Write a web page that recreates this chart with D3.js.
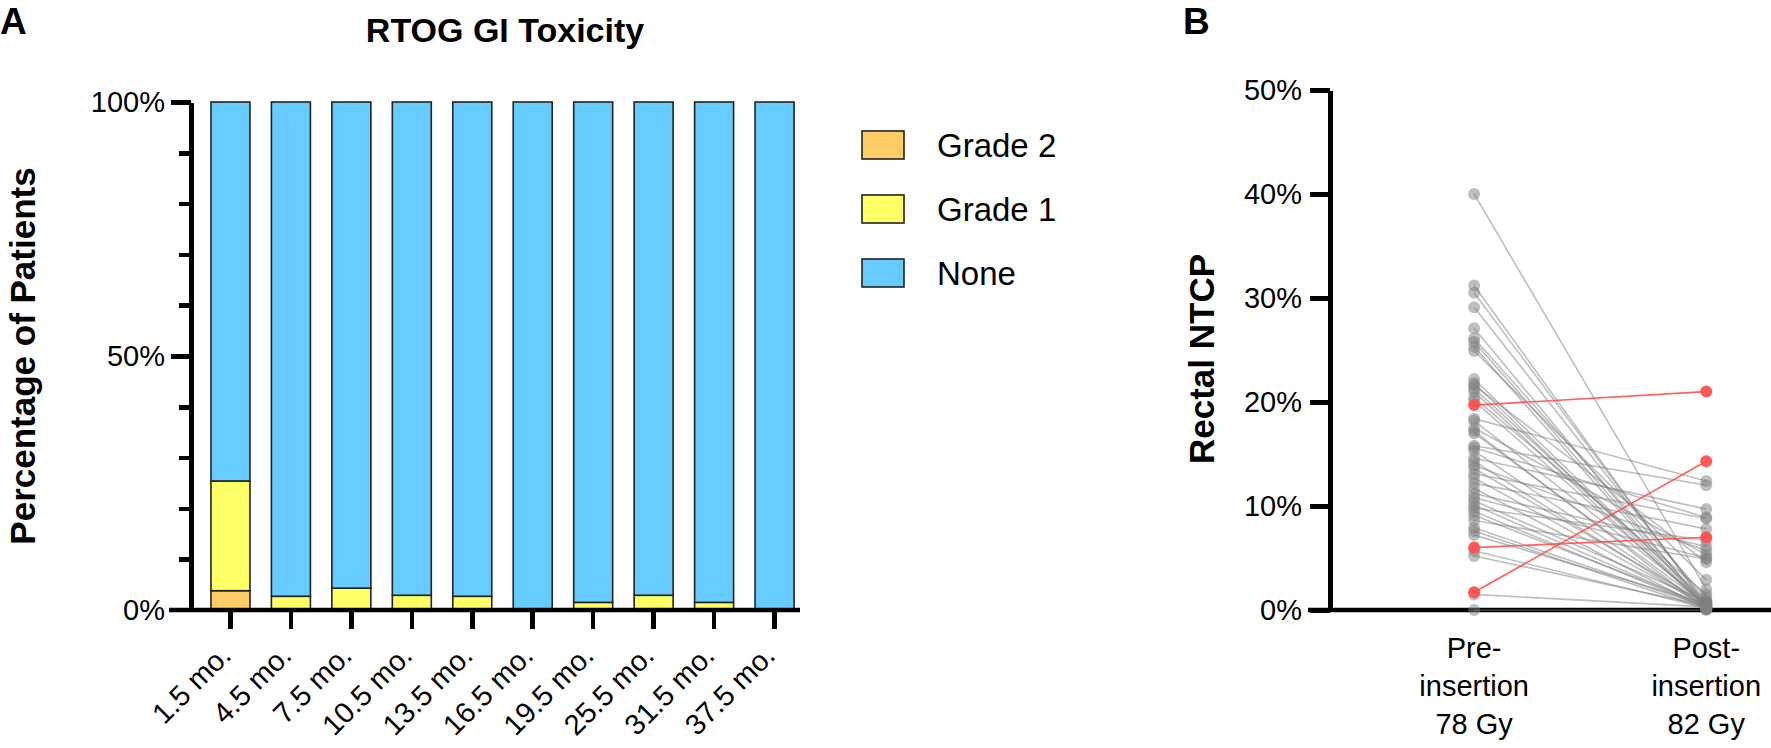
<!DOCTYPE html>
<html lang="en">

<head>
  <meta charset="utf-8">
  <title>RTOG GI Toxicity / Rectal NTCP</title>
  <script src="https://cdn.jsdelivr.net/npm/d3@7"></script>
  <style>
    body {
      margin: 0;
      background: #fff;
    }

    svg text {
      font-family: "Liberation Sans", Arial, sans-serif;
      fill: #000;
    }

    .axis path,
    .axis line {
      stroke: #000;
      stroke-width: 4.5;
      shape-rendering: crispEdges;
    }
  </style>
</head>

<body>
  <div id="chart"></div>
  <script>
    // panel A data (percent of patients)
    const timepoints = ['1.5 mo.', '4.5 mo.', '7.5 mo.', '10.5 mo.', '13.5 mo.', '16.5 mo.', '19.5 mo.', '25.5 mo.', '31.5 mo.', '37.5 mo.']
    const grade2 = [3.8, 0, 0, 0, 0, 0, 0, 0, 0, 0]
    const grade1 = [21.6, 2.7, 4.3, 2.9, 2.7, 0, 1.5, 2.9, 1.5, 0]
    const none = timepoints.map((t, i) => 100 - grade1[i] - grade2[i])
    const yTicksA = [0, 50, 100]

    // panel B data (rectal NTCP, %)
    const groupsB = ['Pre-insertion 78 Gy', 'Post-insertion 82 Gy']
    const preGray = [40.0, 31.2, 30.5, 29.1, 27.1, 26.1, 25.8, 25.3, 24.9, 22.2, 21.8, 21.6, 21.3, 21.0, 20.4, 20.1,
      18.4, 18.2, 17.5, 17.2, 17.0, 15.8, 15.6, 15.3, 14.6, 14.3, 13.9, 13.6, 13.1, 12.7, 12.2, 11.7, 11.2, 10.8,
      10.5, 10.1, 9.8, 9.5, 9.1, 8.6, 7.9, 7.6, 7.2, 5.7, 5.2, 1.5, 0.0]
    const postGray = [2.0, 0.3, 0.5, 0.8, 0.2, 1.2, 0.4, 0.1, 2.9, 0.6, 0.3, 4.6, 0.9, 0.2, 1.5, 0.4,
      12.4, 0.7, 5.3, 0.1, 0.5, 12.0, 8.9, 0.3, 9.7, 0.2, 5.7, 0.6, 8.8, 0.4, 7.8, 0.1, 6.1, 5.0,
      0.8, 0.3, 6.7, 0.2, 0.5, 4.9, 0.3, 0.1, 0.6, 0.2, 0.4, 0.3, 0.0]
    const preRed = [19.7, 6.0, 1.7]
    const postRed = [21.0, 7.0, 14.3]
    const yTicksB = [0, 10, 20, 30, 40, 50]

    const width = 1771
    const height = 748
    const colors = { grade2: '#FFCC66', grade1: '#FFFF66', none: '#66CCFF' }

    const svg = d3.select('#chart')
      .append('svg')
      .attr('width', width)
      .attr('height', height)

    // ---------- panel A ----------
    const axisXA = 191
    const yA = d3.scaleLinear().domain([0, 100]).range([610, 102])
    const xA = d3.scaleBand().domain(timepoints).range([axisXA, 814])
      .paddingInner(0.355).paddingOuter(0.33)

    const stackRows = timepoints.map((t, i) => ({ t: t, grade2: grade2[i], grade1: grade1[i], none: none[i] }))
    const stacked = d3.stack().keys(['grade2', 'grade1', 'none'])(stackRows)

    const gA = svg.append('g')

    gA.selectAll('g.layer')
      .data(stacked)
      .enter()
      .append('g')
      .attr('class', 'layer')
      .attr('fill', d => colors[d.key])
      .selectAll('rect')
      .data(d => d)
      .enter()
      .append('rect')
      .attr('x', d => xA(d.data.t))
      .attr('y', d => yA(d[1]))
      .attr('width', xA.bandwidth())
      .attr('height', d => yA(d[0]) - yA(d[1]))
      .attr('stroke', '#222')
      .attr('stroke-width', d => (d[1] - d[0]) > 0 ? 1.6 : 0)

    // minor ticks every 10%
    gA.append('g')
      .attr('class', 'axis')
      .attr('transform', `translate(${axisXA},0)`)
      .call(d3.axisLeft(yA).tickValues(d3.range(10, 100, 10).filter(v => v !== 50)).tickSize(12).tickFormat(''))
      .call(g => g.select('.domain').remove())

    const yAxisA = gA.append('g')
      .attr('class', 'axis')
      .attr('transform', `translate(${axisXA},0)`)
      .call(d3.axisLeft(yA).tickValues(yTicksA).tickSize(20).tickSizeOuter(0).tickPadding(6).tickFormat(d => d + '%'))
    yAxisA.selectAll('text').style('font-size', '29px')
    yAxisA.select('.tick line').remove()

    const xAxisA = gA.append('g')
      .attr('class', 'axis')
      .attr('transform', `translate(0,${yA(0)})`)
      .call(d3.axisBottom(xA).tickSize(19).tickSizeOuter(0))
    xAxisA.select('.domain').remove()
    xAxisA.selectAll('text')
      .style('font-size', '29px')
      .attr('text-anchor', 'end')
      .attr('y', 0)
      .attr('dy', '0.35em')
      .attr('transform', 'translate(-5,40) rotate(-45)')

    gA.append('line')
      .attr('x1', axisXA - 22).attr('x2', 800)
      .attr('y1', yA(0)).attr('y2', yA(0))
      .attr('stroke', '#000').attr('stroke-width', 4.5)

    gA.append('text')
      .attr('x', 505).attr('y', 42)
      .attr('text-anchor', 'middle')
      .style('font-size', '34px').style('font-weight', 'bold')
      .text('RTOG GI Toxicity')

    gA.append('text')
      .attr('transform', `translate(35,${yA(50)}) rotate(-90)`)
      .attr('text-anchor', 'middle')
      .style('font-size', '35px').style('font-weight', 'bold')
      .text('Percentage of Patients')

    gA.append('text')
      .attr('x', 0).attr('y', 34)
      .style('font-size', '37px').style('font-weight', 'bold')
      .text('A')

    // legend
    const legendItems = [
      { key: 'grade2', label: 'Grade 2' },
      { key: 'grade1', label: 'Grade 1' },
      { key: 'none', label: 'None' }
    ]
    const legend = gA.selectAll('g.legend')
      .data(legendItems)
      .enter()
      .append('g')
      .attr('class', 'legend')
      .attr('transform', (d, i) => `translate(862,${131 + i * 64})`)
    legend.append('rect')
      .attr('width', 42).attr('height', 28)
      .attr('fill', d => colors[d.key])
      .attr('stroke', '#222').attr('stroke-width', 1.6)
    legend.append('text')
      .attr('x', 75).attr('y', 26)
      .style('font-size', '33px')
      .text(d => d.label)

    // ---------- panel B ----------
    const axisXB = 1330
    const yB = d3.scaleLinear().domain([0, 50]).range([610, 90])
    const xB = d3.scalePoint().domain(groupsB).range([axisXB, width]).padding(0.45).align(0.69)

    const gB = svg.append('g')

    const yAxisB = gB.append('g')
      .attr('class', 'axis')
      .attr('transform', `translate(${axisXB},0)`)
      .call(d3.axisLeft(yB).tickValues(yTicksB).tickSize(20).tickSizeOuter(0).tickPadding(8).tickFormat(d => d + '%'))
    yAxisB.selectAll('text').style('font-size', '29px')

    gB.append('line')
      .attr('x1', axisXB - 22).attr('x2', width)
      .attr('y1', yB(0)).attr('y2', yB(0))
      .attr('stroke', '#000').attr('stroke-width', 4.5)

    const pairsGray = preGray.map((v, i) => [v, postGray[i]])
    const pairsRed = preRed.map((v, i) => [v, postRed[i]])

    function drawPairs(pairs, color, lineOpacity, dotOpacity) {
      const g = gB.append('g')
      g.selectAll('line')
        .data(pairs)
        .enter()
        .append('line')
        .attr('x1', xB(groupsB[0]))
        .attr('x2', xB(groupsB[1]))
        .attr('y1', d => yB(d[0]))
        .attr('y2', d => yB(d[1]))
        .attr('stroke', color)
        .attr('stroke-opacity', lineOpacity)
        .attr('stroke-width', 1.6)
      groupsB.forEach((grp, k) => {
        g.selectAll('circle.c' + k)
          .data(pairs)
          .enter()
          .append('circle')
          .attr('class', 'c' + k)
          .attr('cx', xB(grp))
          .attr('cy', d => yB(d[k]))
          .attr('r', 6)
          .attr('fill', color)
          .attr('fill-opacity', dotOpacity)
      })
    }
    drawPairs(pairsGray, '#808080', 0.5, 0.5)
    drawPairs(pairsRed, '#FF5050', 0.9, 0.95)

    // category labels (three lines)
    const catLabels = gB.selectAll('text.cat')
      .data(['Pre-|insertion|78 Gy', 'Post-|insertion|82 Gy'])
      .enter()
      .append('text')
      .attr('class', 'cat')
      .attr('text-anchor', 'middle')
      .style('font-size', '29px')
    catLabels.selectAll('tspan')
      .data((d, i) => d.split('|').map(s => ({ s: s, x: xB(groupsB[i]) })))
      .enter()
      .append('tspan')
      .attr('x', d => d.x)
      .attr('y', (d, j) => 658 + j * 38)
      .text(d => d.s)

    gB.append('text')
      .attr('transform', `translate(1214,359) rotate(-90)`)
      .attr('text-anchor', 'middle')
      .style('font-size', '35px').style('font-weight', 'bold')
      .text('Rectal NTCP')

    gB.append('text')
      .attr('x', 1183).attr('y', 34)
      .style('font-size', '37px').style('font-weight', 'bold')
      .text('B')
  </script>
</body>

</html>
